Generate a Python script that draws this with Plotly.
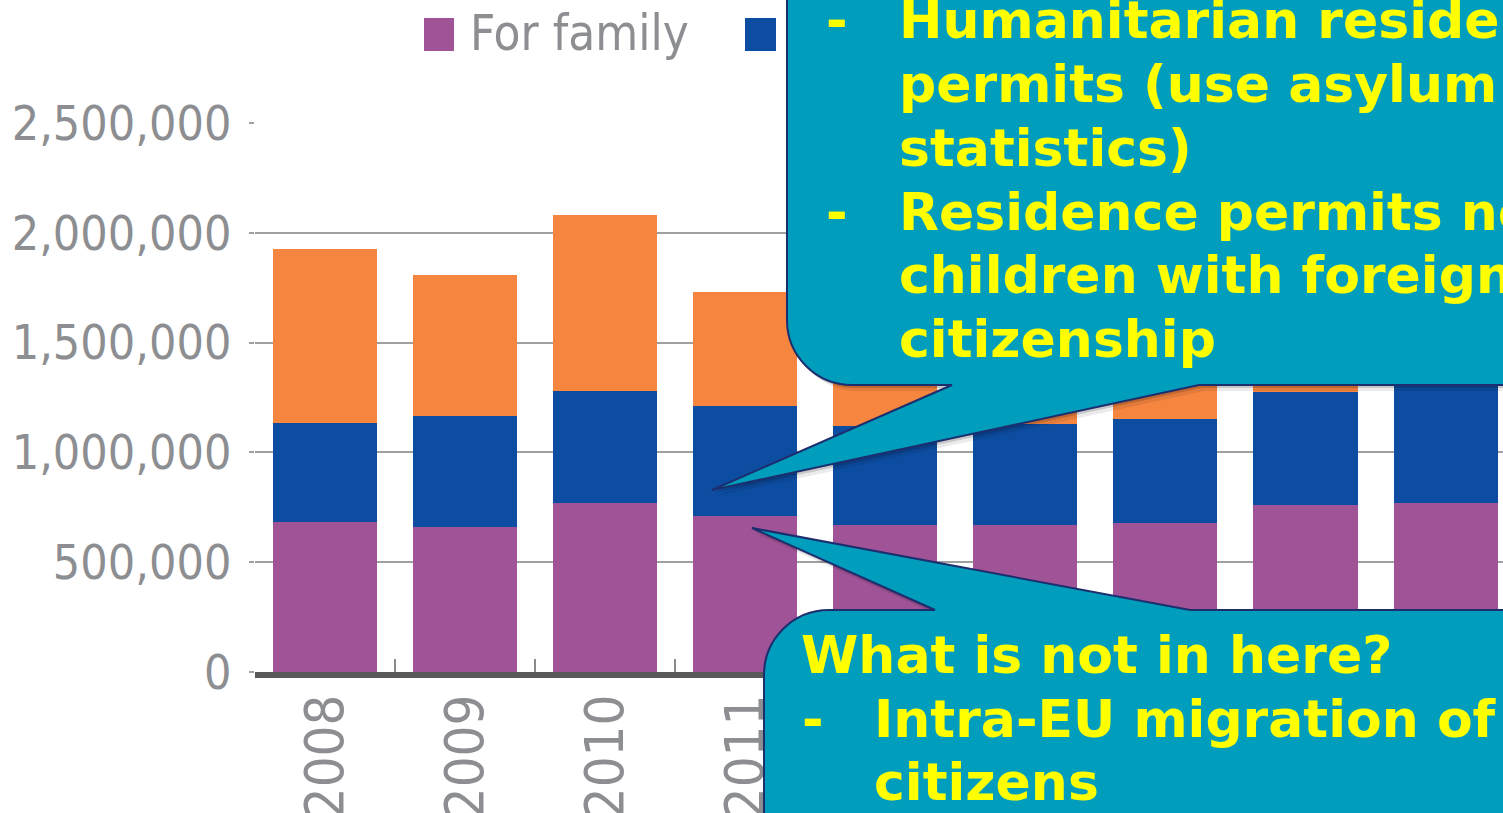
import plotly.graph_objects as go

# ---------------- data ----------------
years = ["2008", "2009", "2010", "2011", "2012", "2013", "2014", "2015", "2016"]
family = [683000, 660000, 770000, 710000, 669000, 669000, 678000, 760000, 770000]
education = [451000, 506000, 510000, 501000, 451000, 460000, 474000, 515000, 610000]
work = [792000, 642000, 801000, 519000, 580000, 591000, 588000, 715000, 870000]

series_names = ["For family", "For education", "For work"]
series_colors = ["#A05396", "#0C4DA2", "#F5853F"]

y_tick_values = [0, 500000, 1000000, 1500000, 2000000, 2500000]
y_tick_labels = ["0", "500,000", "1,000,000", "1,500,000", "2,000,000", "2,500,000"]

callout_top_lines = ["Humanitarian residence", "permits (use asylum", "statistics)",
                     "Residence permits newborn", "children with foreign", "citizenship"]
callout_top_bullets = [True, False, False, True, False, False]
callout_bottom_lines = ["What is not in here?", "Intra-EU migration of EU", "citizens"]
callout_bottom_bullets = [False, True, False]

# ---------------- layout geometry (pixels) ----------------
W, H = 1503, 813
L, T, B = 255, 123, 672          # plot left, top, bottom in px
PW, PH = W - L, B - T


def px(X):
    return (X - L) / PW


def py(Y):
    return (B - Y) / PH


GREY = "#8C8E91"
NARROW = "DejaVu Sans Condensed, Liberation Sans Narrow, sans-serif"
TEAL = "#019DBD"
NAVY = "#1C2E6E"
YELLOW = "#FFFF00"

fig = go.Figure()
for name, vals, col in zip(series_names, [family, education, work], series_colors):
    fig.add_trace(go.Bar(x=years, y=vals, name=name, marker=dict(color=col, line=dict(width=0)),
                         showlegend=False))

fig.update_layout(
    width=W, height=H, autosize=False,
    margin=dict(l=L, r=0, t=T, b=H - B, pad=0, autoexpand=False),
    paper_bgcolor="white", plot_bgcolor="white",
    barmode="stack", bargap=0.257,
    showlegend=False,
)
fig.update_xaxes(
    type="category", range=[-0.5, 8.41], tickson="boundaries", automargin=False,
    ticks="inside", ticklen=13, tickwidth=2, tickcolor="#8A8A8A",
    tickangle=-90, tickfont=dict(family=NARROW, size=54, color=GREY),
    ticklabelstandoff=-5,
    showline=True, linecolor="#5A5A5A", linewidth=6, showgrid=False, zeroline=False,
)
fig.update_yaxes(
    range=[0, 2500000], tickvals=y_tick_values, ticktext=y_tick_labels, automargin=False,
    showgrid=True, gridcolor="#A0A0A0", gridwidth=2, zeroline=False,
    ticks="outside", ticklen=5, tickwidth=2, tickcolor="#A0A0A0",
    tickfont=dict(family=NARROW, size=48, color=GREY), ticklabelstandoff=8,
    showline=False,
)


def path_from(cmds):
    out = []
    for c in cmds:
        if c[0] == "Z":
            out.append("Z")
        elif c[0] in ("M", "L"):
            out.append(f"{c[0]}{px(c[1]):.5f},{py(c[2]):.5f}")
        elif c[0] == "C":
            out.append("C" + " ".join(f"{px(c[i]):.5f},{py(c[i+1]):.5f}" for i in (1, 3, 5)))
    return " ".join(out)


K = 0.5523
R = 65
# top callout
xl, yb = 787, 385
top_cmds = [("M", xl, -30), ("L", xl, yb - R),
            ("C", xl, yb - R + K * R, xl + R - K * R, yb, xl + R, yb),
            ("L", 952, yb), ("L", 712, 490), ("L", 1199, yb), ("L", 1540, yb),
            ("L", 1540, -30), ("Z",)]
# bottom callout
xl2, yt = 764, 610
bot_cmds = [("M", xl2, 850), ("L", xl2, yt + R),
            ("C", xl2, yt + R - K * R, xl2 + R - K * R, yt, xl2 + R, yt),
            ("L", 935, yt), ("L", 752, 528), ("L", 1190, yt), ("L", 1540, yt),
            ("L", 1540, 850), ("Z",)]


def shifted(cmds, dx, dy):
    out = []
    for c in cmds:
        if c[0] == "Z":
            out.append(c)
        else:
            vals = list(c[1:])
            for i in range(0, len(vals), 2):
                vals[i] += dx
                vals[i + 1] += dy
            out.append((c[0], *vals))
    return out


shapes = []
# legend squares
shapes.append(dict(type="rect", xref="paper", yref="paper", layer="above",
                   x0=px(424), x1=px(454), y0=py(51), y1=py(18),
                   fillcolor=series_colors[0], line=dict(width=0)))
shapes.append(dict(type="rect", xref="paper", yref="paper", layer="above",
                   x0=px(745), x1=px(776), y0=py(51), y1=py(18),
                   fillcolor=series_colors[1], line=dict(width=0)))
for cmds in (top_cmds, bot_cmds):
    for (dx, dy, a) in ((5, 6, 0.08), (2, 3, 0.15)):
        shapes.append(dict(type="path", xref="paper", yref="paper", layer="above",
                           path=path_from(shifted(cmds, dx, dy)),
                           fillcolor=f"rgba(0,0,0,{a})", line=dict(width=0)))
    shapes.append(dict(type="path", xref="paper", yref="paper", layer="above",
                       path=path_from(cmds), fillcolor=TEAL,
                       line=dict(color=NAVY, width=2)))
fig.update_layout(shapes=shapes)

annotations = []
# legend text
annotations.append(dict(text=series_names[0], xref="paper", yref="paper", x=px(468), y=py(34),
                        xanchor="left", yanchor="middle", showarrow=False,
                        font=dict(family=NARROW, size=49, color=GREY)))
BOLD = dict(family="DejaVu Sans", size=52, color=YELLOW, weight="bold")
top_baselines = [38, 102, 166, 230, 293, 357]
for line, bullet, base in zip(callout_top_lines, callout_top_bullets, top_baselines):
    cy = base - 18
    annotations.append(dict(text=line, xref="paper", yref="paper", x=px(897), y=py(cy),
                            xanchor="left", yanchor="middle", showarrow=False, font=BOLD))
    if bullet:
        annotations.append(dict(text="-", xref="paper", yref="paper", x=px(824), y=py(cy),
                                xanchor="left", yanchor="middle", showarrow=False, font=BOLD))
bot_baselines = [673, 737, 800]
for i, (line, bullet, base) in enumerate(zip(callout_bottom_lines, callout_bottom_bullets, bot_baselines)):
    cy = base - 18
    x0 = 799 if i == 0 else 872
    annotations.append(dict(text=line, xref="paper", yref="paper", x=px(x0), y=py(cy),
                            xanchor="left", yanchor="middle", showarrow=False, font=BOLD))
    if bullet:
        annotations.append(dict(text="-", xref="paper", yref="paper", x=px(800), y=py(cy),
                                xanchor="left", yanchor="middle", showarrow=False, font=BOLD))
fig.update_layout(annotations=annotations)

fig.write_html("out.html", config={"displayModeBar": False},
               post_script="document.body.style.margin='0';document.body.style.overflow='hidden';")
